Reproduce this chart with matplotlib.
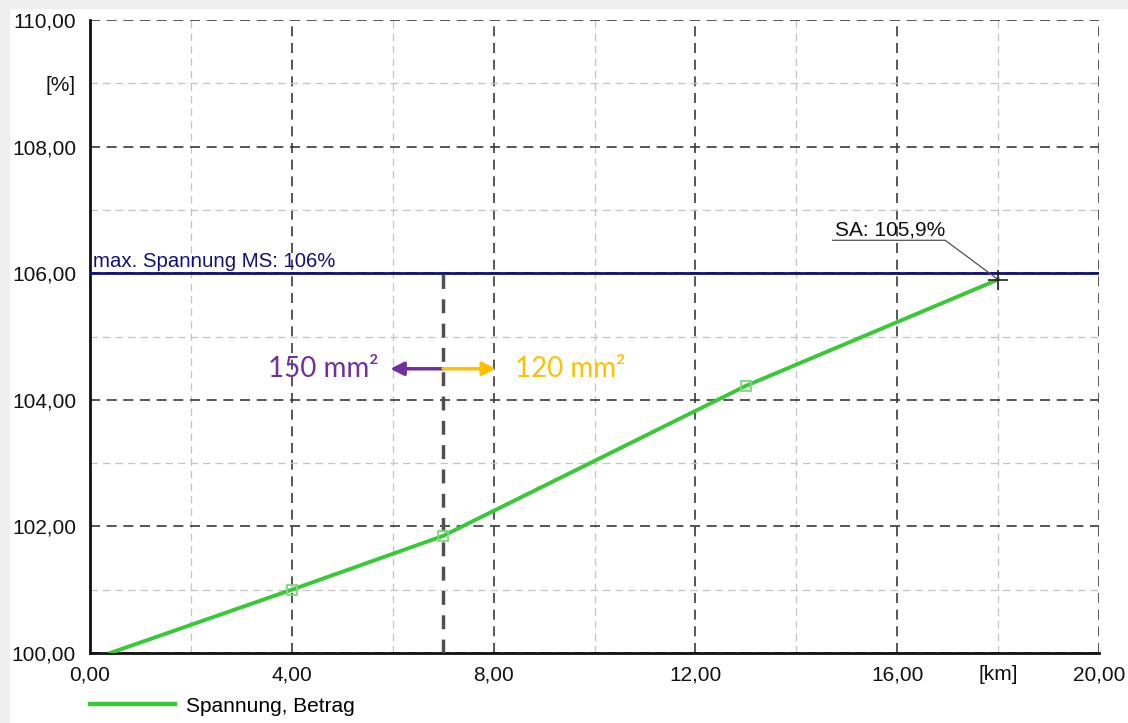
import matplotlib
matplotlib.use("Agg")
import matplotlib.pyplot as plt
from matplotlib.patches import Rectangle

# data
dist_km = [0.4, 4.0, 7.0, 13.0, 18.0]
voltage_pct = [100.0, 101.0, 101.85, 104.22, 105.9]
max_voltage = 106.0
split_km = 7.0
sa_km, sa_pct = 18.0, 105.9

x_major = [0, 4, 8, 12, 16, 20]
x_minor = [2, 6, 10, 14, 18]
y_major = [100, 102, 104, 106, 108, 110]
y_minor = [101, 103, 105, 107, 109]


def fmt(v):
    return f"{v:.2f}".replace(".", ",")


plt.rcParams["font.family"] = ["Liberation Sans", "DejaVu Sans"]

fig = plt.figure(figsize=(11.28, 7.23), dpi=100)
fig.patches.append(Rectangle((0, 0), 9 / 1128, 1, transform=fig.transFigure,
                             color="#efefef", zorder=0))
fig.patches.append(Rectangle((0, 1 - 8 / 723), 1, 8 / 723, transform=fig.transFigure,
                             color="#efefef", zorder=0))
ax = fig.add_axes([90 / 1128, 1 - 653 / 723, 1009 / 1128, 633 / 723])

ax.set_xlim(0, 20)
ax.set_ylim(100, 110)

ax.set_xticks(x_major)
ax.set_xticklabels([fmt(v) for v in x_major])
ax.set_xticks(x_minor, minor=True)
ax.set_xticklabels(["" if v != 18 else "[km]" for v in x_minor], minor=True)
ax.set_yticks(y_major)
ax.set_yticklabels([fmt(v) for v in y_major])
ax.set_yticks(y_minor, minor=True)
ax.set_yticklabels(["" if v != 109 else "[%]" for v in y_minor], minor=True)
ax.tick_params(axis="both", which="both", length=0, labelsize=15, colors="#111111")
ax.tick_params(axis="x", which="both", pad=9)
ax.tick_params(axis="y", which="both", pad=10)

ax.grid(which="major", color="#3a3a3a", lw=1.2, ls=(0, (6, 4)))
ax.grid(which="minor", color="#c4c4c4", lw=0.9, ls=(0, (6, 4)))
ax.set_axisbelow(True)

for side in ["top", "right"]:
    ax.spines[side].set_visible(False)
for side in ["left", "bottom"]:
    ax.spines[side].set_linewidth(2)
    ax.spines[side].set_color("#111111")

# limit line
ax.axhline(max_voltage, color="#10107a", lw=2, zorder=3)
ax.text(0.05, max_voltage + 0.03, "max. Spannung MS: 106%", color="#10107a",
        fontsize=14.7, ha="left", va="bottom")

# cable change
ax.plot([split_km, split_km], [100, max_voltage], color="#505050", lw=2.5,
        ls=(0, (4, 3)), zorder=3)

ax.plot(dist_km, voltage_pct, color="#38c838", lw=2.8, zorder=4,
        label="Spannung, Betrag", marker="s", markersize=6.5, mfc="none",
        mec="#7ed87e", mew=1.3, markevery=[1, 2, 3])
ax.plot([sa_km], [sa_pct], marker="+", color="#202020", markersize=14, mew=1.2, zorder=5)

# SA label with underline leader
ax.plot([14.72, 16.95, sa_km], [106.52, 106.52, sa_pct], color="#505050", lw=0.9, zorder=4)
ax.text(14.76, 106.53, "SA: 105,9%", fontsize=15, color="#111111", ha="left", va="bottom")

arrow_y = 104.49
ax.annotate("", xy=(5.95, arrow_y), xytext=(split_km, arrow_y),
            arrowprops=dict(arrowstyle="-|>", color="#7030a0", lw=2.5, mutation_scale=20,
                            shrinkA=0, shrinkB=0), zorder=6)
ax.annotate("", xy=(8.05, arrow_y), xytext=(split_km, arrow_y),
            arrowprops=dict(arrowstyle="-|>", color="#ffc000", lw=2.5, mutation_scale=20,
                            shrinkA=0, shrinkB=0), zorder=6)
ax.text(5.72, arrow_y, "150 mm²", color="#7030a0", fontsize=20, family=["Lato", "DejaVu Sans"],
        ha="right", va="center")
ax.text(8.42, arrow_y, "120 mm²", color="#ffc000", fontsize=20, family=["Lato", "DejaVu Sans"],
        ha="left", va="center")

leg = fig.legend(loc="center left", bbox_to_anchor=(90 / 1128, 1 - 706 / 723), frameon=False,
                 handlelength=4.1, fontsize=15, handletextpad=0.5, borderpad=0,
                 borderaxespad=0)
for h in leg.get_lines():
    h.set_linewidth(3.2)
    h.set_marker("")

fig.savefig("out.png", dpi=100)
